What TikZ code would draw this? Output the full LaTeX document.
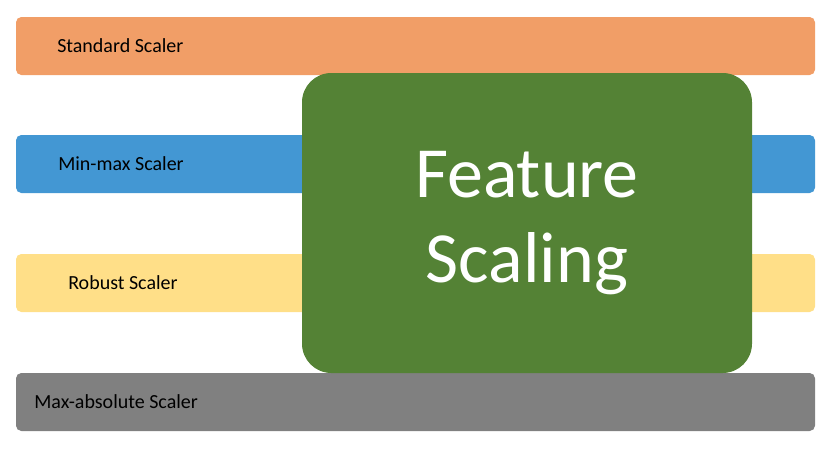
\documentclass[tikz,border=0pt]{standalone}
\usepackage{fontspec}
\setmainfont{Carlito}
\definecolor{cor}{HTML}{F19E67}
\definecolor{cbl}{HTML}{4397D3}
\definecolor{cye}{HTML}{FFDF88}
\definecolor{cgr}{HTML}{808080}
\definecolor{cgn}{HTML}{548235}
\tikzset{bar/.style={rounded corners=4pt,draw=none},
lab/.style={anchor=west,font=\fontsize{15}{18}\selectfont,inner sep=0pt}}
\begin{document}
\begin{tikzpicture}[x=0.75pt,y=-0.75pt]
\useasboundingbox (0,0) rectangle (829,450);
\fill[bar,cor] (16,17) rectangle (815,75);
\fill[bar,cbl] (16,135) rectangle (815,193);
\fill[bar,cye] (16,254) rectangle (815,312);
\fill[bar,cgr] (16,373) rectangle (815,431);
\node[lab] (a) at (57,46) {Standard Scaler};
\node[lab] (b) at (58,164) {Min-max Scaler};
\node[lab] (c) at (68,283) {Robust Scaler};
\node[lab] (d) at (34,402) {Max-absolute Scaler};
\node[fill=cgn,rounded corners=22pt,minimum width=337.5pt,minimum height=225pt,inner sep=0pt,text=white,align=center,font=\fontsize{54}{64}\selectfont] (f) at (527,223) {Feature\\Scaling};
\end{tikzpicture}
\end{document}
